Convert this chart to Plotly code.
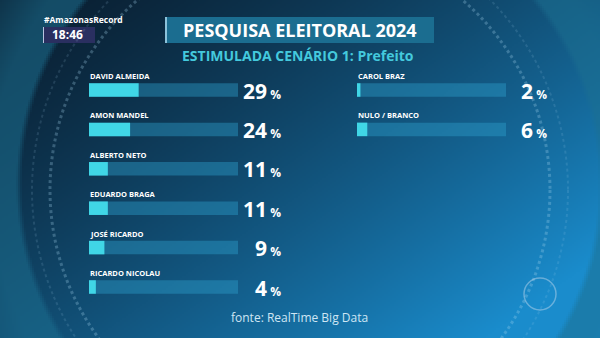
import numpy as np
import plotly.graph_objects as go

# ---------------- data ----------------
left_names = ["DAVID ALMEIDA", "AMON MANDEL", "ALBERTO NETO", "EDUARDO BRAGA", "JOSÉ RICARDO", "RICARDO NICOLAU"]
left_values = [29, 24, 11, 11, 9, 4]
right_names = ["CAROL BRAZ", "NULO / BRANCO"]
right_values = [2, 6]
title_text = "PESQUISA ELEITORAL 2024"
subtitle_text = "ESTIMULADA CENÁRIO 1: Prefeito"
source_text = "fonte: RealTime Big Data"
hashtag_text = "#AmazonasRecord"
clock_text = "18:46"

# ---------------- layout constants ----------------
W, H = 600, 338
XMAX = 87          # value that fills a whole track
ROW0 = 90          # pixel centre of first row
ROWSTEP = 39.4     # pixel distance between rows
BAR_PX = 13.5
FILL = "#40d6e6"
TRACK = "rgba(45,160,205,0.42)"
FONT = "Open Sans"

def py(p):
    return 1 - p / H

# ---------------- background (decoration) ----------------
step = 2
xs = np.arange(0, W, step) + step / 2
ys = np.arange(0, H, step) + step / 2
X, Y = np.meshgrid(xs, ys)
u, v = X / W, Y / H
t = np.clip(0.62 * u + 0.5 * v, 0, 1) ** 1.35
c0 = np.array([10, 30, 48.0])
c1 = np.array([26, 140, 204.0])
img = c0 + t[..., None] * (c1 - c0)
d = np.hypot(X - 310, Y - 185)
m = np.clip((d - 288) / 6, 0, 1) * np.clip(1 - (d - 320) / 80, 0.35, 1)
teal = np.array([28, 112, 145.0])
img = img * (1 - 0.55 * m[..., None]) + teal * 0.55 * m[..., None]
img = np.clip(img, 0, 255).astype(np.uint8)

fig = go.Figure()
fig.add_trace(go.Image(z=img, x0=step / 2, dx=step, y0=step / 2, dy=step,
                       xaxis="x", yaxis="y", hoverinfo="skip", zsmooth="fast"))

# ---------------- bars ----------------
left_rows = list(range(len(left_names)))
right_rows = list(range(len(right_names)))
bar_w = BAR_PX / ROWSTEP

for rows, vals, xa in [(left_rows, left_values, "x2"), (right_rows, right_values, "x3")]:
    fig.add_trace(go.Bar(x=[XMAX] * len(rows), y=rows, orientation="h", width=bar_w,
                         marker=dict(color=TRACK, line=dict(width=0)),
                         xaxis=xa, yaxis="y2", hoverinfo="skip", showlegend=False))
    fig.add_trace(go.Bar(x=vals, y=rows, orientation="h", width=bar_w,
                         marker=dict(color=FILL, line=dict(width=0)),
                         xaxis=xa, yaxis="y2", hoverinfo="skip", showlegend=False))

ann = []
def col_labels(names, vals, x_left, x_right):
    for i, (n, val) in enumerate(zip(names, vals)):
        yc = ROW0 + i * ROWSTEP
        ann.append(dict(x=x_left / W, y=py(yc - 14), xref="paper", yref="paper",
                        text=f"<b>{n}</b>", showarrow=False, xanchor="left", yanchor="middle",
                        font=dict(family=FONT, size=7.5, color="white")))
        ann.append(dict(x=x_right / W, y=py(yc + 0.5), xref="paper", yref="paper",
                        text=f"<b>{val}</b><span style='font-size:12px'><b> %</b></span>",
                        showarrow=False, xanchor="right", yanchor="middle",
                        font=dict(family=FONT, size=21, color="white")))

col_labels(left_names, left_values, 88, 283)
col_labels(right_names, right_values, 356, 549)

# title
ann.append(dict(x=300 / W, y=py(30), xref="paper", yref="paper", text=f"<b>{title_text}</b>",
                showarrow=False, xanchor="center", yanchor="middle",
                font=dict(family=FONT, size=18, color="white")))
ann.append(dict(x=298 / W, y=py(56), xref="paper", yref="paper", text=f"<b>{subtitle_text}</b>",
                showarrow=False, xanchor="center", yanchor="middle",
                font=dict(family=FONT, size=14, color="#44c9dd")))
ann.append(dict(x=42 / W, y=py(20), xref="paper", yref="paper", text=f"<b>{hashtag_text}</b>",
                showarrow=False, xanchor="left", yanchor="middle",
                font=dict(family=FONT, size=8.5, color="white")))
ann.append(dict(x=67 / W, y=py(35), xref="paper", yref="paper", text=f"<b>{clock_text}</b>",
                showarrow=False, xanchor="center", yanchor="middle",
                font=dict(family=FONT, size=12, color="white")))
ann.append(dict(x=229 / W, y=py(317), xref="paper", yref="paper", text=source_text,
                showarrow=False, xanchor="left", yanchor="middle",
                font=dict(family=FONT, size=12, color="#cfe6f4")))

shapes = [
    dict(type="rect", xref="paper", yref="paper", x0=166 / W, x1=434 / W, y0=py(43), y1=py(17),
         fillcolor="#1b6d90", line=dict(width=0), layer="above"),
    dict(type="rect", xref="paper", yref="paper", x0=165 / W, x1=167 / W, y0=py(43), y1=py(17),
         fillcolor="#8cc2da", line=dict(width=0), layer="above"),
    dict(type="rect", xref="paper", yref="paper", x0=43 / W, x1=95 / W, y0=py(43), y1=py(27),
         fillcolor="#2a2f60", line=dict(width=0), layer="above"),
    dict(type="rect", xref="paper", yref="paper", x0=43 / W, x1=44 / W, y0=py(43), y1=py(27),
         fillcolor="#b8c4e0", line=dict(width=0), layer="above"),
    # decorative dial rings
    dict(type="circle", xref="x", yref="y", x0=50, x1=550, y0=-60, y1=440,
         line=dict(color="rgba(170,215,240,0.28)", width=3, dash="dot"), layer="above"),
    dict(type="circle", xref="x", yref="y", x0=32, x1=568, y0=-80, y1=460,
         line=dict(color="rgba(170,215,240,0.14)", width=2, dash="dot"), layer="above"),
    dict(type="circle", xref="x", yref="y", x0=524, x1=556, y0=278, y1=310,
         line=dict(color="rgba(200,220,240,0.45)", width=1.5), layer="above"),
]

yr = [(H - ROW0) / ROWSTEP, -ROW0 / ROWSTEP]
fig.update_layout(
    width=W, height=H, margin=dict(l=0, r=0, t=0, b=0),
    paper_bgcolor="#0c2c48", plot_bgcolor="rgba(0,0,0,0)",
    barmode="overlay", showlegend=False,
    xaxis=dict(domain=[0, 1], range=[0, W], visible=False, fixedrange=True),
    yaxis=dict(domain=[0, 1], range=[H, 0], visible=False, fixedrange=True),
    xaxis2=dict(domain=[89 / W, 238 / W], range=[0, XMAX], visible=False, anchor="y2"),
    xaxis3=dict(domain=[357 / W, 506 / W], range=[0, XMAX], visible=False, anchor="y2"),
    yaxis2=dict(domain=[0, 1], range=yr, visible=False, anchor="x2"),
    annotations=ann, shapes=shapes,
)
fig.write_html("out.html")
